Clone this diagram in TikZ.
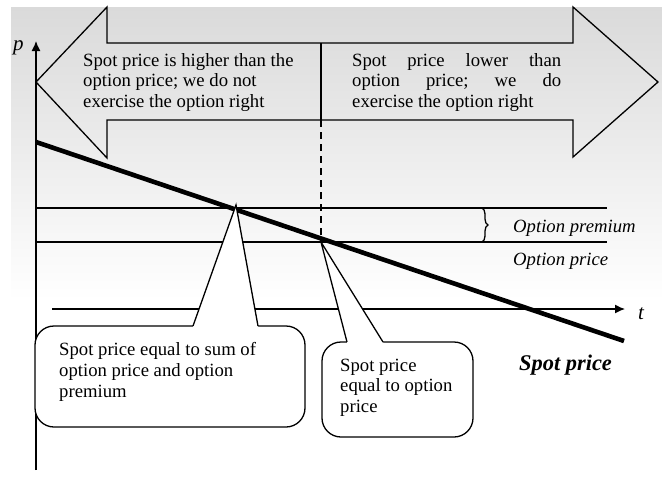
\documentclass[tikz,border=0pt]{standalone}
\usepackage{fontspec}
\setmainfont{Liberation Serif}
\usetikzlibrary{arrows.meta,decorations.pathreplacing}
\definecolor{bgtop}{RGB}{218,218,218}
\begin{document}
\begin{tikzpicture}[x=1pt,y=-1pt,
  ln/.style={line width=1.3pt},
  txt/.style={inner sep=0pt, anchor=base west, font=\fontsize{18.7}{21}\selectfont},
  itx/.style={txt, font=\fontsize{18.7}{21}\selectfont\itshape},
  axlbl/.style={txt, font=\fontsize{21}{24}\selectfont\itshape},
  axis/.style={ln, -{Latex[length=10pt,width=9pt]}},
  boxfill/.style={ln, fill=white, rounded corners=19pt}]
\useasboundingbox (0,0) rectangle (662,477);
% background gradient
\fill[top color=bgtop, bottom color=white] (11,7) rectangle (662,300);

% coordinates
\coordinate (Obot) at (36,470);
\coordinate (Otop) at (36,41);
\coordinate (T0) at (52,309);
\coordinate (T1) at (625,309);
\coordinate (S0) at (36,142);
\coordinate (S1) at (624,341);
\coordinate (P0) at (36,208);
\coordinate (P1) at (607,208);
\coordinate (Q0) at (36,242);
\coordinate (Q1) at (607,242);
\coordinate (A) at (236,205);
\coordinate (B) at (321,242);
\coordinate (D0) at (321,43);
\coordinate (D1) at (321,120);

% double arrow
\draw[ln, line join=miter] (36,82) -- (107,7) -- (107,43) -- (573,43) -- (573,7)
  -- (658,82) -- (573,157) -- (573,120) -- (107,120) -- (107,158) -- cycle;
\draw[ln] (D0) -- (D1);
\draw[ln, dash pattern=on 7pt off 5pt] (D1) -- (B);

% level lines
\draw[ln] (P0) -- (P1);
\draw[ln] (Q0) -- (Q1);
\draw[ln, decorate, decoration={brace, amplitude=6pt}] (482,208) -- (482,242);

% axes
\draw[axis] (Obot) -- (Otop);
\draw[axis] (T0) -- (T1);

% spot price line
\draw[line width=4.6pt] (S0) -- (S1);

% callout 1
\coordinate (C1l) at (193,326);
\coordinate (C1r) at (258,326);
\draw[boxfill] (35,326) rectangle (305,427);
\fill[white] (A) -- (C1l) -- (193,328) -- (258,328) -- (C1r) -- cycle;
\draw[ln] (C1l) -- (A) -- (C1r);

% callout 2
\coordinate (C2l) at (347,342);
\coordinate (C2r) at (383,342);
\draw[boxfill] (322,342) rectangle (473,437);
\fill[white] (B) -- (C2l) -- (347,344) -- (383,344) -- (C2r) -- cycle;
\draw[ln] (C2l) -- (B) -- (C2r);

% texts in arrow
\node[txt] (la1) at (83,66) {Spot price is higher than the};
\node[txt] (la2) at (83,86.5) {option price; we do not};
\node[txt] (la3) at (83,107) {exercise the option right};
\node[txt] (ra1) at (352,66) {\hbox to 209pt{Spot\hfill price\hfill lower\hfill than}};
\node[txt] (ra2) at (352,86.5) {\hbox to 209pt{option\hfill price;\hfill we\hfill do}};
\node[txt] (ra3) at (352,107) {exercise the option right};

% callout texts
\node[txt] (c1a) at (59,355) {Spot price equal to sum of};
\node[txt] (c1b) at (59,376) {option price and option};
\node[txt] (c1c) at (59,397) {premium};
\node[txt] (c2a) at (340,371) {Spot price};
\node[txt] (c2b) at (340,391.5) {equal to option};
\node[txt] (c2c) at (340,412) {price};

% labels
\node[itx] (lprem) at (513,232) {Option premium};
\node[itx] (lopt) at (513,265) {Option price};
\node[txt, font=\fontsize{22.4}{26}\selectfont\bfseries\itshape] (lspot) at (519,370) {Spot price};
\node[axlbl] (lp) at (13,50) {p};
\node[axlbl] (lt) at (638,319) {t};
\end{tikzpicture}
\end{document}
